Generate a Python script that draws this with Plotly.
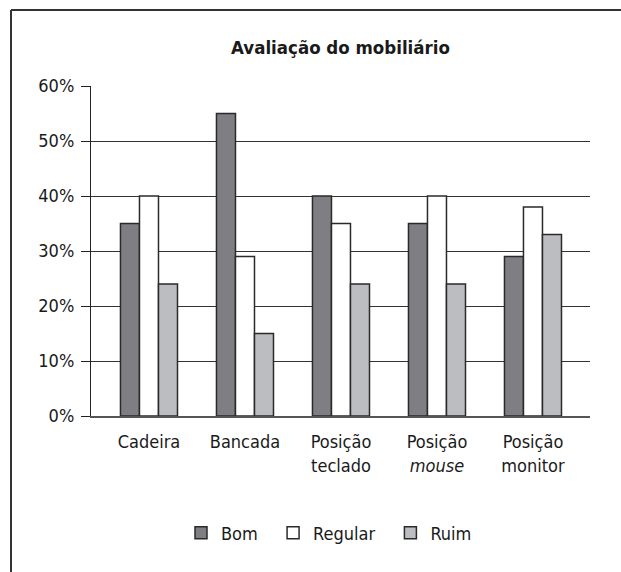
import plotly.graph_objects as go

categories = ["Cadeira", "Bancada", "Posição<br>teclado", "Posição<br><i>mouse</i>", "Posição<br>monitor"]
bom = [35, 55, 40, 35, 29]
regular = [40, 29, 35, 40, 38]
ruim = [24, 15, 24, 24, 33]
series_names = ["Bom", "Regular", "Ruim"]
tick_vals = [0, 10, 20, 30, 40, 50, 60]
tick_text = ["0%", "10%", "20%", "30%", "40%", "50%", "60%"]

FONT = "DejaVu Sans Condensed, Liberation Sans Narrow, Arial Narrow, sans-serif"
colors = ["#7f7f83", "#ffffff", "#bcbdc1"]
pad = "\u00a0\u00a0"

fig = go.Figure()
x_idx = list(range(len(categories)))
for name, vals, col in zip(series_names, [bom, regular, ruim], colors):
    fig.add_trace(go.Bar(
        x=x_idx, y=vals, name=name + pad,
        marker=dict(color=col, line=dict(color="#2a2a2a", width=1.5)),
    ))

W, H = 621, 572
L, R, T, B = 91, 31, 86, 156
pw, ph = W - L - R, H - T - B

def px(xp):
    return (xp - L) / pw

def py(yp):
    return (H - B - yp) / ph

fig.update_layout(
    width=W, height=H,
    margin=dict(l=L, r=R, t=T, b=B),
    paper_bgcolor="white", plot_bgcolor="white",
    barmode="group", bargap=0.406, bargroupgap=0,
    font=dict(family=FONT, size=18, color="#1a1a1a"),
    title=dict(text="<b>Avaliação do mobiliário</b>", x=0.5, xref="paper",
               y=1 - 48 / H, yref="container", yanchor="middle", xanchor="center",
               font=dict(family=FONT, size=18.5, color="#1a1a1a")),
    showlegend=True,
    legend=dict(orientation="h", x=px(334), xanchor="center", y=py(533), yanchor="middle",
                font=dict(family=FONT, size=18, color="#1a1a1a"), traceorder="normal"),
    xaxis=dict(tickmode="array", tickvals=x_idx, ticktext=categories,
               range=[-0.604, 4.594], showgrid=False, showline=True,
               linecolor="#555", linewidth=1.5, ticks="", zeroline=False,
               ticklabelstandoff=9),
    yaxis=dict(range=[0, 60], tickvals=tick_vals, ticktext=tick_text,
               showgrid=True, gridcolor="#333333", gridwidth=1.2,
               showline=True, linecolor="#222", linewidth=1.2,
               ticks="outside", ticklen=9, tickcolor="#222", zeroline=False,
               ticklabelstandoff=3),
    shapes=[
        dict(type="line", xref="paper", yref="paper", x0=px(11), x1=px(11), y0=py(10), y1=py(600),
             line=dict(color="#333", width=2)),
        dict(type="line", xref="paper", yref="paper", x0=px(11), x1=px(640), y0=py(10), y1=py(10),
             line=dict(color="#333", width=2)),
    ],
)

fig.write_html("out.html", config={"displayModeBar": False},
               post_script="document.body.style.margin='0';")
